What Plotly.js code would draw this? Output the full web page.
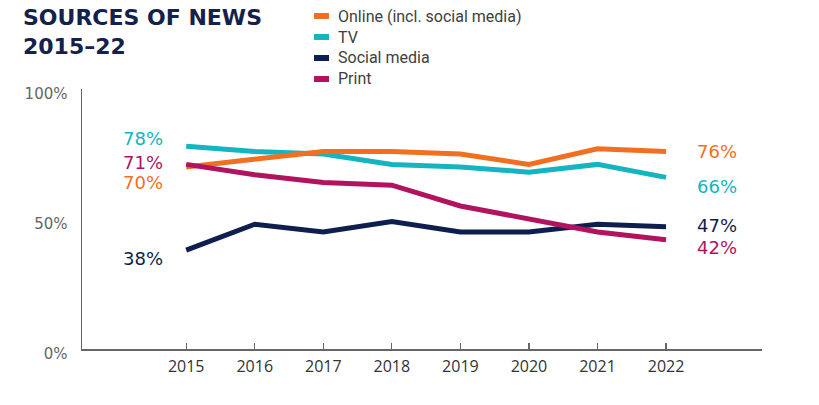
<!DOCTYPE html>
<html>
<head>
<meta charset="utf-8">
<script src="https://cdn.plot.ly/plotly-3.0.1.min.js"></script>
<style>
  html, body { margin: 0; padding: 0; background: #fff; }
  #chart { width: 819px; height: 405px; }
</style>
</head>
<body>
<div id="chart"></div>
<script>
// ---- data ----
const years = [2015, 2016, 2017, 2018, 2019, 2020, 2021, 2022];
const seriesNames = ["Online (incl. social media)", "TV", "Social media", "Print"];
const online = [70, 73, 76, 76, 75, 71, 77, 76];
const tv = [78, 76, 75, 71, 70, 68, 71, 66];
const social = [38, 48, 45, 49, 45, 45, 48, 47];
const print = [71, 67, 64, 63, 55, 50, 45, 42];
const yTickVals = [0, 50, 100];
const yTickText = ["0%", "50%", "100%"];
const titleLines = ["SOURCES OF NEWS", "2015–22"];

// ---- styles ----
const colors = ["#F26F21", "#14B5C0", "#0E1E4F", "#B1135F"];
const values = [online, tv, social, print];
// label offsets (px) for the start / end labels
const startShift = [-15, 8, -8, 2];
const endShift = [0, -9, 1, -8];
const drawOrder = [2, 1, 0, 3];

const traces = drawOrder.map(i => ({
  type: "scatter",
  mode: "lines",
  x: years,
  y: values[i],
  name: seriesNames[i],
  line: { color: colors[i], width: 5 },
  showlegend: false,
  hoverinfo: "skip"
}));

const plotL = 82, plotW = 680, plotB = 349, plotH = 260;
const px = x => (x - plotL) / plotW;
const py = y => (plotB - y) / plotH;

const annotations = [];
const shapes = [];
const labelFont = (c) => ({ family: "DejaVu Sans", size: 18, color: c });
values.forEach((v, i) => {
  const first = v[0], last = v[v.length - 1];
  annotations.push({
    x: years[0], y: first, xref: "x", yref: "y",
    text: first + "%", showarrow: false,
    xanchor: "right", yanchor: "middle",
    xshift: -21, yshift: startShift[i],
    font: labelFont(colors[i])
  });
  annotations.push({
    x: years[years.length - 1], y: last, xref: "x", yref: "y",
    text: last + "%", showarrow: false,
    xanchor: "left", yanchor: "middle",
    xshift: 29, yshift: endShift[i],
    font: labelFont(colors[i])
  });
});

// custom legend
const legendRows = [16, 37, 58, 79];
seriesNames.forEach((n, i) => {
  shapes.push({
    type: "line", xref: "paper", yref: "paper",
    x0: px(314), x1: px(329), y0: py(legendRows[i]), y1: py(legendRows[i]),
    line: { color: colors[i], width: 6 }
  });
  annotations.push({
    x: px(336), y: py(legendRows[i]), xref: "paper", yref: "paper",
    text: n, showarrow: false, xanchor: "left", yanchor: "middle",
    font: { family: "Roboto", size: 16, color: "#404040" }
  });
});

// title (two lines in one text block)
annotations.push({
  x: px(21), y: py(32), xref: "paper", yref: "paper",
  text: "<b>" + titleLines.join("<br>") + "</b>", showarrow: false,
  xanchor: "left", yanchor: "middle", align: "left",
  font: { family: "DejaVu Sans", size: 22, color: "#14214B" }
});

const layout = {
  width: 819, height: 405,
  margin: { l: 82, r: 57, t: 89, b: 56, pad: 0 },
  paper_bgcolor: "#ffffff",
  plot_bgcolor: "#ffffff",
  showlegend: false,
  xaxis: {
    range: [2013.48, 2023.4],
    tickvals: years,
    ticktext: years.map(String),
    ticks: "inside", ticklen: 6, tickwidth: 1.2, tickcolor: "#666",
    showline: true, linecolor: "#666", linewidth: 1.5,
    showgrid: false, zeroline: false,
    ticklabelstandoff: 2,
    tickfont: { family: "Open Sans", size: 16, color: "#333" },
    fixedrange: true
  },
  yaxis: {
    range: [0, 100],
    tickvals: yTickVals,
    ticktext: yTickText,
    ticks: "",
    showline: true, linecolor: "#666", linewidth: 1.5,
    showgrid: false, zeroline: false,
    ticklabelstandoff: 10,
    ticklabelshift: 5,
    tickfont: { family: "DejaVu Sans", size: 15, color: "#666" },
    fixedrange: true
  },
  annotations: annotations,
  shapes: shapes
};

Plotly.newPlot("chart", traces, layout, { displayModeBar: false, staticPlot: true });
</script>
</body>
</html>
